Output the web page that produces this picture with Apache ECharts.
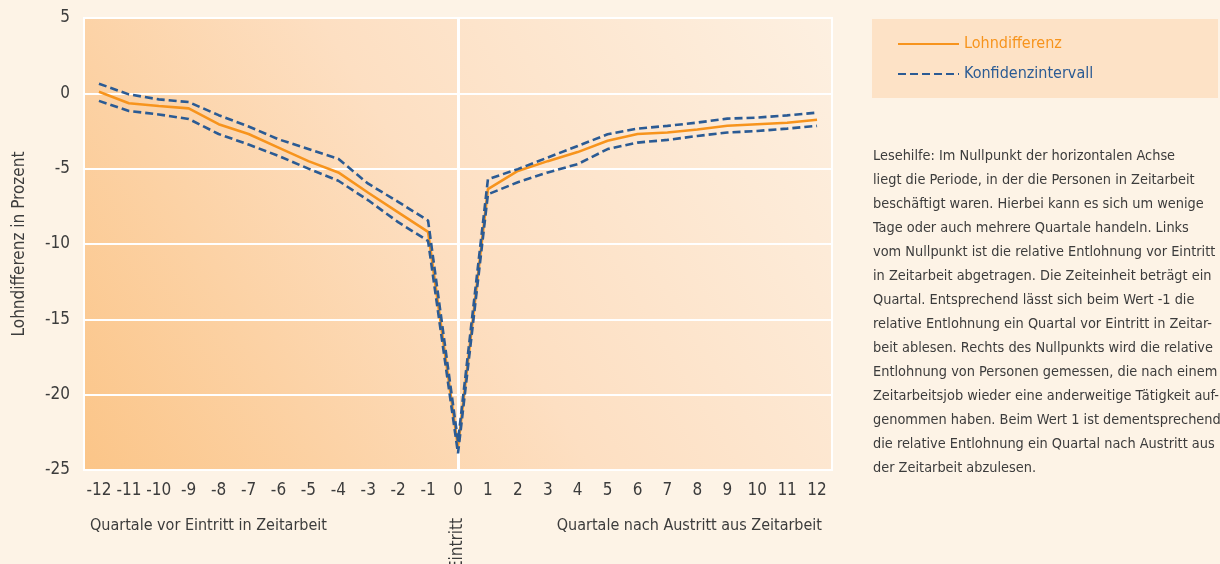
<!DOCTYPE html>
<html>
<head>
<meta charset="utf-8">
<script src="https://cdn.jsdelivr.net/npm/echarts@6/dist/echarts.min.js"></script>
<style>
    html, body { margin: 0; padding: 0; background: #fdf3e6; }
    #chart { width: 1220px; height: 564px; }
</style>
</head>
<body>
<div id="chart"></div>
<script>
// quartale relativ zum Eintritt
var quartale = ['-12', '-11', '-10', '-9', '-8', '-7', '-6', '-5', '-4', '-3', '-2', '-1', '0',
    '1', '2', '3', '4', '5', '6', '7', '8', '9', '10', '11', '12'];
// Lohndifferenz in Prozent
var lohndifferenz = [0.1, -0.66, -0.84, -1.0, -2.05, -2.7, -3.6, -4.5, -5.25, -6.6, -7.9, -9.2, -23.5,
    -6.36, -5.15, -4.5, -3.9, -3.15, -2.7, -2.6, -2.4, -2.15, -2.05, -1.95, -1.75];
// Konfidenzintervall oben / unten
var kiOben = [0.64, -0.07, -0.4, -0.58, -1.45, -2.2, -3.05, -3.7, -4.35, -6.0, -7.2, -8.45, -23.1,
    -5.7, -5.03, -4.26, -3.49, -2.72, -2.34, -2.16, -1.94, -1.68, -1.61, -1.46, -1.28];
var kiUnten = [-0.5, -1.17, -1.4, -1.7, -2.7, -3.4, -4.15, -5.0, -5.8, -7.1, -8.55, -9.8, -23.9,
    -6.7, -5.9, -5.25, -4.7, -3.7, -3.27, -3.09, -2.83, -2.6, -2.5, -2.34, -2.16];

var lesehilfe = [
    'Lesehilfe: Im Nullpunkt der horizontalen Achse',
    'liegt die Periode, in der die Personen in Zeitarbeit',
    'beschäftigt waren. Hierbei kann es sich um wenige',
    'Tage oder auch mehrere Quartale handeln. Links',
    'vom Nullpunkt ist die relative Entlohnung vor Eintritt',
    'in Zeitarbeit abgetragen. Die Zeiteinheit beträgt ein',
    'Quartal. Entsprechend lässt sich beim Wert -1 die',
    'relative Entlohnung ein Quartal vor Eintritt in Zeitar-',
    'beit ablesen. Rechts des Nullpunkts wird die relative',
    'Entlohnung von Personen gemessen, die nach einem',
    'Zeitarbeitsjob wieder eine anderweitige Tätigkeit auf-',
    'genommen haben. Beim Wert 1 ist dementsprechend',
    'die relative Entlohnung ein Quartal nach Austritt aus',
    'der Zeitarbeit abzulesen.'
];

var font = "'Liberation Sans Narrow', 'DejaVu Sans Condensed', sans-serif";
var textColor = '#3c3c3c';
var orange = '#f7941d';
var blau = '#2b5b94';

var chart = echarts.init(document.getElementById('chart'));

var ciStyle = {
    color: blau,
    width: 2.6,
    type: [8, 4]
};

var option = {
    backgroundColor: '#fdf3e6',
    textStyle: { fontFamily: font },
    grid: {
        left: 84,
        right: 388,
        top: 18,
        bottom: 94,
        show: true,
        borderColor: '#ffffff',
        borderWidth: 2,
        backgroundColor: new echarts.graphic.LinearGradient(0, 1, 1, 0, [
            { offset: 0, color: '#fbc588' },
            { offset: 0.5, color: '#fddfc2' },
            { offset: 1, color: '#fdf0e1' }
        ])
    },
    legend: {
        orient: 'vertical',
        left: 892,
        top: 31,
        itemWidth: 61,
        itemHeight: 14,
        itemGap: 14,
        itemStyle: { opacity: 0 },
        textStyle: { fontSize: 16, fontFamily: font },
        data: [
            { name: 'Lohndifferenz', textStyle: { color: orange } },
            { name: 'Konfidenzintervall', textStyle: { color: blau } }
        ],
        selectedMode: false
    },
    xAxis: {
        type: 'category',
        data: quartale,
        boundaryGap: true,
        axisLine: { show: false },
        axisTick: { show: false },
        splitLine: { show: false },
        axisLabel: {
            interval: 0,
            margin: 12,
            fontSize: 17,
            color: textColor,
            fontFamily: font
        }
    },
    yAxis: {
        type: 'value',
        min: -25,
        max: 5,
        interval: 5,
        name: 'Lohndifferenz in Prozent',
        nameLocation: 'middle',
        nameGap: 56,
        nameTextStyle: { fontSize: 17, color: textColor, fontFamily: font },
        axisLine: { show: false },
        axisTick: { show: false },
        axisLabel: { margin: 14, fontSize: 17, color: textColor, fontFamily: font },
        splitLine: { lineStyle: { color: '#ffffff', width: 2 } }
    },
    series: [
        {
            name: 'Lohndifferenz',
            type: 'line',
            data: lohndifferenz,
            symbol: 'none',
            lineStyle: { color: orange, width: 2.6 },
            itemStyle: { color: orange },
            z: 3,
            markLine: {
                silent: true,
                symbol: 'none',
                label: { show: false },
                lineStyle: { color: '#ffffff', width: 3, type: 'solid' },
                data: [{ xAxis: '0' }],
                z: 1
            }
        },
        {
            name: 'Konfidenzintervall',
            type: 'line',
            data: kiOben,
            symbol: 'none',
            lineStyle: ciStyle,
            itemStyle: { color: blau },
            z: 4
        },
        {
            name: 'Konfidenzintervall',
            type: 'line',
            data: kiUnten,
            symbol: 'none',
            lineStyle: ciStyle,
            itemStyle: { color: blau },
            z: 4
        }
    ],
    graphic: [
        {
            type: 'rect',
            left: 872,
            top: 19,
            z: -1,
            shape: { width: 346, height: 79 },
            style: { fill: '#fde2c6' }
        },
        {
            type: 'text',
            left: 873,
            top: 144,
            style: {
                text: lesehilfe.join('\n'),
                font: '14.4px ' + font,
                lineHeight: 24,
                fill: textColor
            }
        },
        {
            type: 'text',
            left: 90,
            top: 518,
            style: { text: 'Quartale vor Eintritt in Zeitarbeit', font: '16px ' + font, fill: textColor }
        },
        {
            type: 'text',
            right: 398,
            top: 518,
            style: { text: 'Quartale nach Austritt aus Zeitarbeit', font: '16px ' + font, fill: textColor }
        },
        {
            type: 'text',
            x: 458,
            y: 544,
            rotation: Math.PI / 2,
            style: {
                text: 'Eintritt',
                font: '17px ' + font,
                fill: textColor,
                align: 'center',
                verticalAlign: 'middle'
            }
        }
    ]
};

chart.setOption(option);
</script>
</body>
</html>
